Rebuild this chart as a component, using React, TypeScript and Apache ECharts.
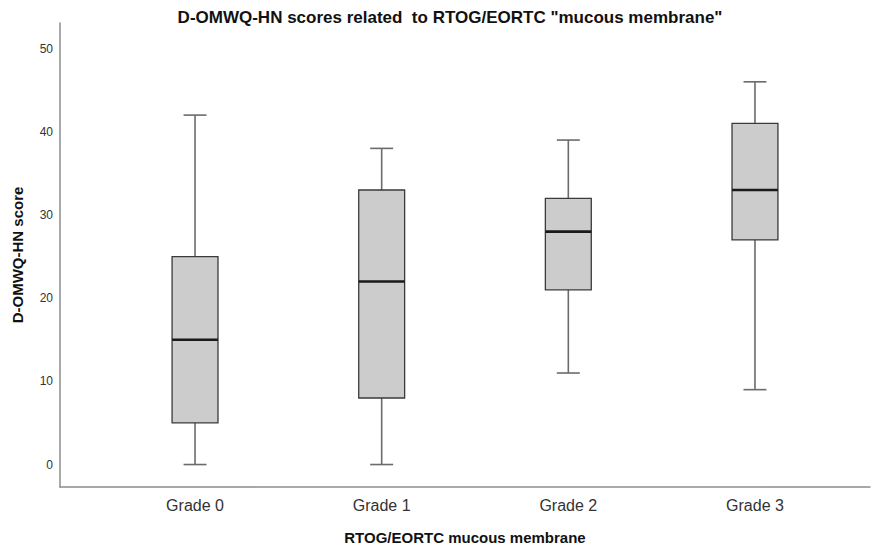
import React, { useEffect, useRef } from "react";
import * as echarts from "echarts";

const categories = ["Grade 0", "Grade 1", "Grade 2", "Grade 3"];
const whiskerLow = [0, 0, 11, 9];
const q1 = [5, 8, 21, 27];
const median = [15, 22, 28, 33];
const q3 = [25, 33, 32, 41];
const whiskerHigh = [42, 38, 39, 46];

const titleText = 'D-OMWQ-HN scores related  to RTOG/EORTC "mucous membrane"';
const xName = "RTOG/EORTC mucous membrane";
const yName = "D-OMWQ-HN score";

const Y_MIN = -2.7;
const Y_MAX = 53.07;
const FONT = "'Liberation Sans', Arial, sans-serif";

export default function App() {
  const ref = useRef<HTMLDivElement>(null);
  useEffect(() => {
    if (!ref.current) return;
    const chart = echarts.init(ref.current, undefined, { renderer: "svg" });
    const data = categories.map((_, i) => [i, whiskerLow[i], q1[i], median[i], q3[i], whiskerHigh[i]]);
    chart.setOption({
      animation: false,
      backgroundColor: "#ffffff",
      title: {
        text: titleText,
        left: 445,
        textAlign: "center",
        top: 4,
        textStyle: { fontFamily: FONT, fontSize: 17, fontWeight: "bold", color: "#111" },
      },
      grid: [
        { left: 60, right: 8, top: 23, bottom: 64 },
        { left: 101.7, right: 29.7, top: 23, bottom: 64 },
      ],
      xAxis: [
        {
          gridIndex: 0,
          type: "value",
          min: 0,
          max: 1,
          position: "bottom",
          axisLine: { show: true, onZero: false, lineStyle: { color: "#8c8c8c", width: 1.5 } },
          axisTick: { show: false },
          axisLabel: { show: false },
          splitLine: { show: false },
          name: xName,
          nameLocation: "middle",
          nameGap: 43,
          nameTextStyle: { fontFamily: FONT, fontSize: 15, fontWeight: "bold", color: "#111" },
        },
        {
          gridIndex: 1,
          type: "category",
          data: categories,
          boundaryGap: true,
          position: "bottom",
          axisLine: { show: false, onZero: false },
          axisTick: { show: false },
          axisLabel: { fontFamily: FONT, fontSize: 16, color: "#333", margin: 10 },
          splitLine: { show: false },
        },
      ],
      yAxis: [
        {
          gridIndex: 0,
          type: "value",
          min: Y_MIN,
          max: Y_MAX,
          splitNumber: 5,
          axisLine: { show: true, onZero: false, lineStyle: { color: "#8c8c8c", width: 1.5 } },
          axisTick: { show: false },
          splitLine: { show: false },
          axisLabel: {
            fontFamily: FONT,
            fontSize: 12,
            color: "#333",
            margin: 7,
            formatter: (v: number) => (Math.abs(v - Math.round(v / 10) * 10) < 1e-6 ? String(Math.round(v)) : ""),
          },
          name: yName,
          nameLocation: "middle",
          nameGap: 35,
          nameTextStyle: { fontFamily: FONT, fontSize: 15, fontWeight: "bold", color: "#111" },
        },
        {
          gridIndex: 1,
          type: "value",
          min: Y_MIN,
          max: Y_MAX,
          show: false,
          splitLine: { show: false },
        },
      ],
      series: [
        {
          type: "custom",
          xAxisIndex: 1,
          yAxisIndex: 1,
          data,
          renderItem: (params: any, api: any) => {
            const idx = api.value(0);
            const lo = api.coord([idx, api.value(1)]);
            const b1 = api.coord([idx, api.value(2)]);
            const md = api.coord([idx, api.value(3)]);
            const b3 = api.coord([idx, api.value(4)]);
            const hi = api.coord([idx, api.value(5)]);
            const band = api.size([1, 0])[0];
            const bw = band * 0.246;
            const cw = bw * 0.5;
            const cx = lo[0];
            const whisk = { stroke: "#6b6b6b", lineWidth: 1.6 };
            return {
              type: "group",
              children: [
                { type: "line", shape: { x1: cx, y1: hi[1], x2: cx, y2: b3[1] }, style: whisk },
                { type: "line", shape: { x1: cx, y1: b1[1], x2: cx, y2: lo[1] }, style: whisk },
                { type: "line", shape: { x1: cx - cw / 2, y1: hi[1], x2: cx + cw / 2, y2: hi[1] }, style: whisk },
                { type: "line", shape: { x1: cx - cw / 2, y1: lo[1], x2: cx + cw / 2, y2: lo[1] }, style: whisk },
                {
                  type: "rect",
                  shape: { x: cx - bw / 2, y: b3[1], width: bw, height: b1[1] - b3[1] },
                  style: { fill: "#cccccc", stroke: "#3a3a3a", lineWidth: 1.3 },
                },
                {
                  type: "line",
                  shape: { x1: cx - bw / 2, y1: md[1], x2: cx + bw / 2, y2: md[1] },
                  style: { stroke: "#1a1a1a", lineWidth: 2.6 },
                },
              ],
            };
          },
        },
      ],
    });
    return () => chart.dispose();
  }, []);
  return <div ref={ref} style={{ width: 878, height: 551, position: "absolute", left: 0, top: 0 }} />;
}
